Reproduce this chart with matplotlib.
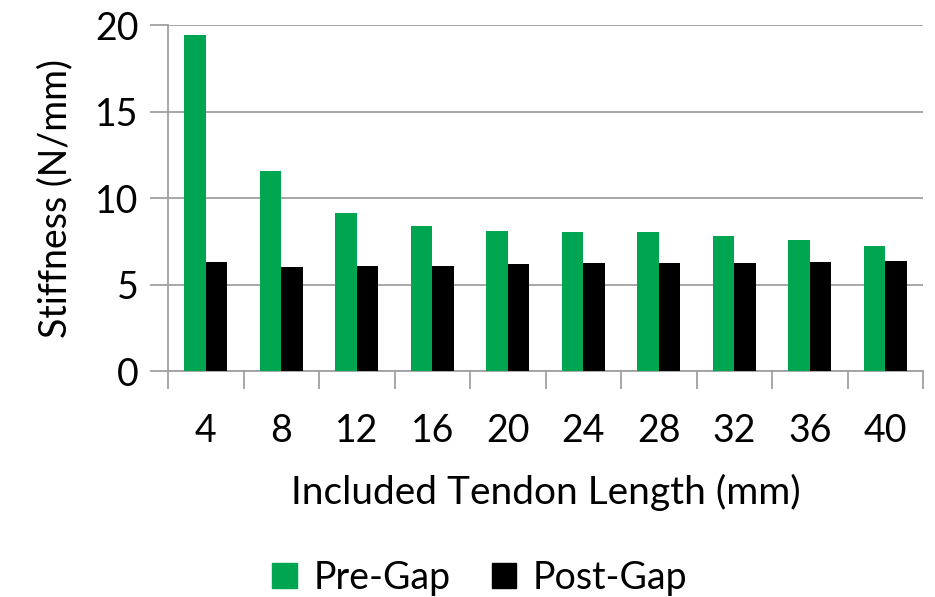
import matplotlib
matplotlib.use("Agg")
import matplotlib.pyplot as plt
import numpy as np
from matplotlib.patches import Patch

categories = ["4", "8", "12", "16", "20", "24", "28", "32", "36", "40"]
pre_gap = [19.46, 11.56, 9.12, 8.39, 8.12, 8.04, 8.02, 7.83, 7.56, 7.25]
post_gap = [6.31, 6.02, 6.07, 6.09, 6.19, 6.23, 6.25, 6.25, 6.28, 6.37]
yticks = [0, 5, 10, 15, 20]

plt.rcParams['font.family'] = ['Lato', 'DejaVu Sans']

fig = plt.figure(figsize=(9.35, 5.97), dpi=100)
ax = fig.add_axes([168/935, 1-371/597, (923-168)/935, (371-25.3)/597])

x = np.arange(len(categories))
w = 0.282
green = '#00A551'
ax.bar(x - w/2, pre_gap, w, color=green, label='Pre-Gap', zorder=3)
ax.bar(x + w/2, post_gap, w, color='black', label='Post-Gap', zorder=3)

ax.set_xlim(-0.5, len(categories) - 0.5)
ax.set_ylim(0, 20)
ax.set_yticks(yticks)
ax.set_yticklabels([str(v) for v in yticks])
ax.yaxis.grid(True, color='#A0A0A0', linewidth=1.3, zorder=0)
ax.tick_params(axis='y', length=13, width=1.3, color='#A0A0A0', labelsize=27, pad=8)

ax.set_xticks(x)
ax.set_xticklabels(categories)
ax.set_xticks(np.arange(len(categories) + 1) - 0.5, minor=True)
ax.tick_params(axis='x', which='major', length=0, labelsize=27, pad=30)
ax.tick_params(axis='x', which='minor', length=13, width=1.3, color='#A0A0A0')

for s in ['top', 'right']:
    ax.spines[s].set_visible(False)
for s in ['left', 'bottom']:
    ax.spines[s].set_color('#A0A0A0')
    ax.spines[s].set_linewidth(1.3)

ax.set_ylabel('Stiffness (N/mm)', fontsize=27, labelpad=16)
ax.set_xlabel('Included Tendon Length (mm)', fontsize=28, labelpad=18)

handles = [Patch(color=green), Patch(color='black')]
fig.legend(handles, ['Pre-Gap', 'Post-Gap'], loc='center', bbox_to_anchor=(480/935, 1-578/597),
           ncol=2, frameon=False, fontsize=27, handlelength=0.65, handleheight=0.65,
           handletextpad=0.45, columnspacing=1.1)

fig.savefig('out.png', dpi=100)
